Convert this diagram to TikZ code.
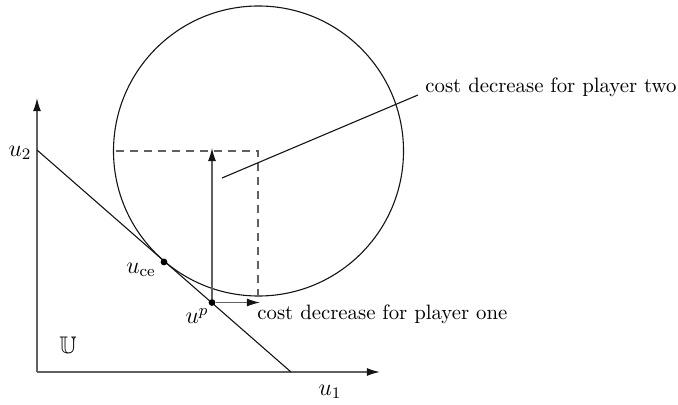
\documentclass[tikz,border=0pt]{standalone}
\usepackage{xcolor}
\usepackage{tikz}
\usepackage{amsmath,amssymb}
\usetikzlibrary{arrows.meta,positioning}
\definecolor{ceGrey}  {RGB}{ 96, 96, 96}
\definecolor{ceBlack} {RGB}{ 20, 20, 20}

\begin{document}
\begin{tikzpicture}[
  x=0.5pt,y=-0.5pt,
  >={Latex[length=2.3mm,width=1.4mm,color=ceBlack]},
  every node/.style={font=\fontsize{10.4}{12}\selectfont,inner sep=0pt},
  sym/.style  ={font=\fontsize{12}{14}\selectfont},
  axis/.style ={draw=ceGrey,line width=0.7pt,->},
  curve/.style={draw=ceBlack,line width=0.55pt},
  guide/.style={draw=ceGrey,line width=0.6pt,dash pattern=on 4pt off 3pt},
  move/.style ={draw=ceGrey,line width=0.6pt,->},
  pt/.style   ={fill=black,circle,minimum size=3.4pt}
]
\useasboundingbox (0,0) rectangle (678,405);

% axes
\coordinate (O) at (37,372);
\coordinate (Y) at (37,98);
\coordinate (X) at (380,372);
\draw[axis] (O) -- (Y);
\draw[axis] (O) -- (X);
\node[sym] (u2) at (20,153) {$u_2$};
\node[sym] (u1) at (330,392) {$u_1$};
\node[sym] (U)  at (68,345) {$\mathbb{U}$};

% boundary line and circle
\coordinate (A) at (37,150);
\coordinate (B) at (291,372);
\draw[curve] (A) -- (B);
\coordinate (C) at (258.5,151);
\draw[curve] (C) circle[radius=72.5pt];

% points
\node[pt] (uce) at (164,262) {};
\node[pt] (up)  at (212,302.5) {};
\node[sym] (uceL) at (141,270) {$u_{\mathrm{ce}}$};
\node[sym] (upL)  at (197,316) {$u^{p}$};

% dashed guides
\coordinate (dl) at (116,151);
\coordinate (dr) at (258,151);
\coordinate (db) at (258,296);
\draw[guide] (dl) -- (dr) -- (db);

% cost decrease arrows
\coordinate (vtip) at (212,148);
\coordinate (htip) at (260,302.5);
\draw[move] (up) -- (vtip);
\draw[move] (up) -- (htip);
\node[anchor=west] (t1) at (257,314) {cost decrease for player one};

\coordinate (lead) at (222,178);
\node[anchor=west] (t2) at (425,87) {cost decrease for player two};
\draw[curve] (lead) -- (418,95) coordinate (leadE);
\end{tikzpicture}
\end{document}
